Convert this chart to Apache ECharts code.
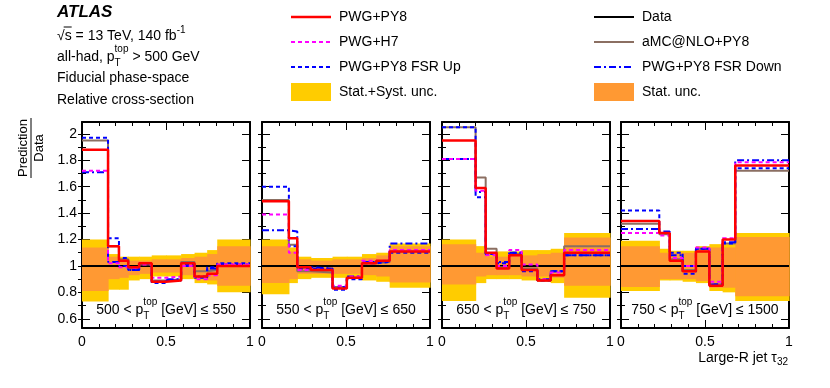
<!DOCTYPE html>
<html>
<head>
<meta charset="utf-8">
<script src="https://cdn.jsdelivr.net/npm/echarts@6/dist/echarts.min.js"></script>
<style>
  html, body { margin: 0; padding: 0; background: #fff; }
  #chart { width: 830px; height: 388px; }
</style>
</head>
<body>
<div id="chart"></div>
<script>
// bin edges (tau32) per pT slice
const edges1 = [0, 0.155, 0.22, 0.275, 0.34, 0.415, 0.5, 0.59, 0.67, 0.745, 0.805, 1.0]
const edges2 = [0, 0.16, 0.21, 0.29, 0.42, 0.505, 0.595, 0.68, 0.76, 1.0]
const edges3 = [0, 0.2, 0.26, 0.325, 0.4, 0.474, 0.568, 0.647, 0.727, 1.0]
const edges4 = [0, 0.228, 0.29, 0.367, 0.446, 0.526, 0.605, 0.68, 1.0]

// Prediction / Data ratios
const pwgPy8_1 = [1.88, 1.15, 1.04, 0.99, 1.02, 0.88, 0.89, 1.02, 0.92, 0.94, 1.00]
const pwgH7_1 = [1.72, 1.02, 0.99, 0.98, 1.01, 0.91, 0.92, 1.00, 0.90, 0.93, 1.01]
const fsrUp_1 = [1.97, 1.21, 1.06, 0.97, 1.02, 0.87, 0.89, 1.01, 0.91, 0.99, 1.02]
const amc_1 = [1.95, 1.15, 1.05, 0.98, 1.01, 0.89, 0.90, 1.03, 0.96, 0.97, 1.00]
const fsrDown_1 = [1.71, 1.03, 1.00, 0.97, 1.02, 0.88, 0.90, 1.00, 0.92, 0.98, 1.01]

const pwgPy8_2 = [1.49, 1.21, 0.99, 0.97, 0.83, 0.91, 1.02, 1.04, 1.11]
const pwgH7_2 = [1.39, 1.10, 0.97, 0.97, 0.85, 0.92, 1.04, 1.04, 1.12]
const fsrUp_2 = [1.60, 1.15, 0.98, 0.98, 0.82, 0.90, 1.02, 1.03, 1.10]
const amc_2 = [1.50, 1.16, 0.96, 0.95, 0.84, 0.91, 1.02, 1.03, 1.11]
const fsrDown_2 = [1.27, 1.26, 0.99, 0.98, 0.84, 0.92, 1.03, 1.04, 1.17]

const pwgPy8_3 = [1.95, 1.59, 1.10, 0.98, 1.08, 0.97, 0.89, 0.93, 1.10]
const pwgH7_3 = [1.81, 1.57, 1.08, 1.00, 1.12, 1.01, 0.90, 0.95, 1.12]
const fsrUp_3 = [2.05, 1.52, 1.09, 1.02, 1.10, 0.96, 0.89, 0.96, 1.08]
const amc_3 = [2.05, 1.67, 1.13, 0.99, 1.09, 0.98, 0.89, 0.93, 1.15]
const fsrDown_3 = [1.81, 1.56, 1.09, 1.03, 1.10, 0.97, 0.90, 0.96, 1.08]

const pwgPy8_4 = [1.34, 1.25, 1.04, 0.96, 1.11, 0.85, 1.20, 1.76]
const pwgH7_4 = [1.25, 1.23, 1.06, 1.00, 1.14, 0.88, 1.21, 1.785]
const fsrUp_4 = [1.42, 1.25, 1.10, 0.94, 1.13, 0.86, 1.17, 1.74]
const amc_4 = [1.32, 1.24, 1.05, 0.97, 1.13, 0.86, 1.17, 1.72]
const fsrDown_4 = [1.28, 1.26, 1.08, 1.00, 1.13, 0.86, 1.18, 1.80]

// uncertainty bands (low / high)
const sysLo_1 = [0.73, 0.82, 0.82, 0.89, 0.90, 0.92, 0.92, 0.90, 0.87, 0.86, 0.80]
const sysHi_1 = [1.20, 1.09, 1.07, 1.07, 1.07, 1.08, 1.08, 1.09, 1.10, 1.12, 1.20]
const statLo_1 = [0.81, 0.90, 0.91, 0.93, 0.94, 0.95, 0.95, 0.93, 0.91, 0.89, 0.85]
const statHi_1 = [1.14, 1.07, 1.05, 1.04, 1.04, 1.05, 1.05, 1.06, 1.07, 1.09, 1.15]

const sysLo_2 = [0.785, 0.87, 0.90, 0.91, 0.91, 0.90, 0.89, 0.88, 0.835]
const sysHi_2 = [1.20, 1.14, 1.07, 1.06, 1.07, 1.07, 1.09, 1.10, 1.17]
const statLo_2 = [0.87, 0.90, 0.94, 0.94, 0.94, 0.94, 0.93, 0.92, 0.875]
const statHi_2 = [1.15, 1.11, 1.05, 1.04, 1.05, 1.05, 1.06, 1.08, 1.15]

const sysLo_3 = [0.735, 0.87, 0.90, 0.90, 0.90, 0.89, 0.88, 0.87, 0.76]
const sysHi_3 = [1.20, 1.15, 1.10, 1.11, 1.11, 1.12, 1.12, 1.13, 1.25]
const statLo_3 = [0.86, 0.92, 0.93, 0.93, 0.93, 0.92, 0.92, 0.91, 0.85]
const statHi_3 = [1.165, 1.10, 1.07, 1.07, 1.08, 1.08, 1.09, 1.10, 1.215]

const sysLo_4 = [0.81, 0.89, 0.89, 0.88, 0.87, 0.81, 0.80, 0.735]
const sysHi_4 = [1.19, 1.13, 1.115, 1.115, 1.15, 1.165, 1.165, 1.25]
const statLo_4 = [0.84, 0.90, 0.90, 0.90, 0.885, 0.835, 0.835, 0.77]
const statHi_4 = [1.15, 1.10, 1.10, 1.10, 1.13, 1.14, 1.14, 1.22]

const ptLow = ['500', '550', '650', '750']
const ptHigh = ['550', '650', '750', '1500']

const yMajor = [0.6, 0.8, 1, 1.2, 1.4, 1.6, 1.8, 2]
const yMinor = [0.6, 0.7, 0.8, 0.9, 1, 1.1, 1.2, 1.3, 1.4, 1.5, 1.6, 1.7, 1.8, 1.9, 2]

const FONT = '"Liberation Sans", Arial, Helvetica, sans-serif'
const Y_MIN = 0.53
const Y_MAX = 2.09
const panelLeft = [82, 262, 442, 621]
const panelW = 168
const panelTop = 122
const panelH = 206

const colRed = '#FF0000'
const colMag = '#FF00FF'
const colBlue = '#0000FF'
const colBrown = '#8B6F62'
const colYellow = '#FFCC00'
const colOrange = '#FF9933'

const panels = [
  { edges: edges1, red: pwgPy8_1, h7: pwgH7_1, up: fsrUp_1, amc: amc_1, down: fsrDown_1, sysLo: sysLo_1, sysHi: sysHi_1, statLo: statLo_1, statHi: statHi_1 },
  { edges: edges2, red: pwgPy8_2, h7: pwgH7_2, up: fsrUp_2, amc: amc_2, down: fsrDown_2, sysLo: sysLo_2, sysHi: sysHi_2, statLo: statLo_2, statHi: statHi_2 },
  { edges: edges3, red: pwgPy8_3, h7: pwgH7_3, up: fsrUp_3, amc: amc_3, down: fsrDown_3, sysLo: sysLo_3, sysHi: sysHi_3, statLo: statLo_3, statHi: statHi_3 },
  { edges: edges4, red: pwgPy8_4, h7: pwgH7_4, up: fsrUp_4, amc: amc_4, down: fsrDown_4, sysLo: sysLo_4, sysHi: sysHi_4, statLo: statLo_4, statHi: statHi_4 }
]

// text measuring, for sub/superscripts
const mctx = document.createElement('canvas').getContext('2d')
function tw(text, size) {
  mctx.font = size + 'px ' + FONT
  return mctx.measureText(text).width
}
function txt(x, y, text, size, extra) {
  return {
    type: 'text', x: x, y: y, silent: true,
    style: Object.assign({ text: text, font: size + 'px ' + FONT, fill: '#000', textAlign: 'left', textVerticalAlign: 'middle' }, extra || {})
  }
}
// parts: {t} plain, {t, size, dy} shifted, {sup, sub} stacked
function richLine(x, y, parts, align) {
  const widths = parts.map(p => p.sup ? Math.max(tw(p.sup, 10), tw(p.sub, 10)) : tw(p.t, p.size || 14))
  const total = widths.reduce((a, b) => a + b, 0)
  let cx = align === 'center' ? x - total / 2 : align === 'right' ? x - total : x
  const els = []
  parts.forEach((p, k) => {
    if (p.sup) {
      els.push(txt(cx, y - 8, p.sup, 10))
      els.push(txt(cx, y + 6, p.sub, 10))
    } else {
      els.push(txt(cx, y + (p.dy || 0), p.t, p.size || 14))
    }
    cx += widths[k]
  })
  return els
}

function stepData(edges, vals) {
  const pts = vals.map((v, k) => [edges[k], v])
  pts.push([edges[edges.length - 1], vals[vals.length - 1]])
  return pts
}
function bandData(edges, lo, hi) {
  return lo.map((v, k) => [edges[k], edges[k + 1], v, hi[k]])
}
function bandItem(color) {
  return function (params, api) {
    const p0 = api.coord([api.value(0), api.value(3)])
    const p1 = api.coord([api.value(1), api.value(2)])
    return {
      type: 'rect',
      shape: { x: p0[0], y: p0[1], width: p1[0] - p0[0] + 0.6, height: p1[1] - p0[1] },
      style: { fill: color }
    }
  }
}

const grids = [], xAxes = [], yAxes = [], series = []
const axisLine = { show: true, onZero: false, lineStyle: { color: '#000', width: 2 } }

panels.forEach((p, i) => {
  grids.push({ left: panelLeft[i], top: panelTop, width: panelW, height: panelH })
  ;['bottom', 'top'].forEach(pos => {
    xAxes.push({
      type: 'value', gridIndex: i, position: pos, min: 0, max: 1, interval: 0.5,
      axisLine: axisLine,
      axisTick: { show: true, inside: true, length: 8, lineStyle: { color: '#000', width: 1 } },
      minorTick: { show: true, splitNumber: 5, length: 4, lineStyle: { color: '#000', width: 1 } },
      axisLabel: {
        show: pos === 'bottom', color: '#000', fontSize: 14, fontFamily: FONT, margin: 7,
        formatter: v => (v === 0 ? '0' : v === 1 ? '1' : '0.5')
      },
      splitLine: { show: false }
    })
  })
  ;['left', 'right'].forEach(pos => {
    yAxes.push({
      type: 'value', gridIndex: i, position: pos, min: Y_MIN, max: Y_MAX,
      axisLine: axisLine,
      axisTick: { show: true, inside: true, length: 8, customValues: yMajor, lineStyle: { color: '#000', width: 1 } },
      axisLabel: {
        show: pos === 'left' && i === 0, customValues: yMajor, color: '#000', fontSize: 14, fontFamily: FONT, margin: 5,
        formatter: v => String(Math.round(v * 10) / 10)
      },
      splitLine: { show: false }
    })
    yAxes.push({
      type: 'value', gridIndex: i, position: pos, min: Y_MIN, max: Y_MAX,
      axisLine: { show: false },
      axisTick: { show: true, inside: true, length: 4, customValues: yMinor, lineStyle: { color: '#000', width: 1 } },
      axisLabel: { show: false },
      splitLine: { show: false }
    })
  })
  const xi = 2 * i, yi = 4 * i
  series.push({
    type: 'custom', xAxisIndex: xi, yAxisIndex: yi, silent: true, z: 1,
    renderItem: bandItem(colYellow), encode: { x: [0, 1], y: [2, 3] },
    data: bandData(p.edges, p.sysLo, p.sysHi)
  })
  series.push({
    type: 'custom', xAxisIndex: xi, yAxisIndex: yi, silent: true, z: 2,
    renderItem: bandItem(colOrange), encode: { x: [0, 1], y: [2, 3] },
    data: bandData(p.edges, p.statLo, p.statHi)
  })
  series.push({
    type: 'line', xAxisIndex: xi, yAxisIndex: yi, symbol: 'none', z: 3,
    data: [[0, 1], [1, 1]], lineStyle: { color: '#000', width: 2 }
  })
  const mc = [
    { d: p.amc, c: colBrown, w: 2, t: 'solid' },
    { d: p.down, c: colBlue, w: 2, t: [7, 3, 2, 3] },
    { d: p.up, c: colBlue, w: 2, t: [4, 3] },
    { d: p.h7, c: colMag, w: 2, t: [4, 3] },
    { d: p.red, c: colRed, w: 2.5, t: 'solid' }
  ]
  mc.forEach((m, k) => {
    series.push({
      type: 'line', step: 'end', xAxisIndex: xi, yAxisIndex: yi, symbol: 'none', z: 4 + k,
      data: stepData(p.edges, m.d), lineStyle: { color: m.c, width: m.w, type: m.t }
    })
  })
})

// texts, legend, annotations
const graphic = []
const cx = panelLeft.map(l => l + panelW / 2)
panels.forEach((p, i) => {
  graphic.push(...richLine(cx[i], 310, [{ t: ptLow[i] + ' < p' }, { sup: 'top', sub: 'T' }, { t: ' [GeV] \u2264 ' + ptHigh[i] }], 'center'))
})

// header block
graphic.push(txt(57, 12, 'ATLAS', 17, { font: 'italic bold 17px ' + FONT }))
graphic.push(...richLine(57, 36, [{ t: '\u221As = 13 TeV, 140 fb' }, { t: '-1', size: 10, dy: -6 }], 'left'))
// bar over s of the square root
graphic.push({ type: 'line', silent: true, shape: { x1: 57 + tw('\u221A', 14) - 1, y1: 27, x2: 57 + tw('\u221As', 14), y2: 27 }, style: { stroke: '#000', lineWidth: 1 } })
graphic.push(...richLine(57, 57, [{ t: 'all-had, p' }, { sup: 'top', sub: 'T' }, { t: ' > 500 GeV' }], 'left'))
graphic.push(txt(57, 78, 'Fiducial phase-space', 14))
graphic.push(txt(57, 100, 'Relative cross-section', 14))

// legend
const legRows = [17, 42, 67, 92]
const legCols = [{ lx: 291, tx: 339 }, { lx: 594, tx: 642 }]
const legItems = [
  [{ n: 'PWG+PY8', c: colRed, w: 2.5 }, { n: 'PWG+H7', c: colMag, w: 2, dash: [4, 3] }, { n: 'PWG+PY8 FSR Up', c: colBlue, w: 2, dash: [4, 3] }, { n: 'Stat.+Syst. unc.', box: colYellow }],
  [{ n: 'Data', c: '#000', w: 2 }, { n: 'aMC@NLO+PY8', c: colBrown, w: 2 }, { n: 'PWG+PY8 FSR Down', c: colBlue, w: 2, dash: [7, 3, 2, 3] }, { n: 'Stat. unc.', box: colOrange }]
]
legItems.forEach((col, ci) => {
  col.forEach((it, ri) => {
    const y = legRows[ri], lx = legCols[ci].lx
    if (it.box) {
      graphic.push({ type: 'rect', silent: true, shape: { x: lx, y: y - 9, width: 40, height: 18 }, style: { fill: it.box } })
    } else {
      graphic.push({ type: 'line', silent: true, shape: { x1: lx, y1: y, x2: lx + 40, y2: y }, style: { stroke: it.c, lineWidth: it.w, lineDash: it.dash || null } })
    }
    graphic.push(txt(legCols[ci].tx, y, it.n, 14))
  })
})

// y title (fraction), rotated
graphic.push({
  type: 'group', x: 31, y: 148, rotation: Math.PI / 2, silent: true,
  children: [
    { type: 'text', x: 0, y: -8, style: { text: 'Prediction', font: '13px ' + FONT, fill: '#000', textAlign: 'center', textVerticalAlign: 'middle' } },
    { type: 'line', shape: { x1: -30, y1: 0, x2: 30, y2: 0 }, style: { stroke: '#000', lineWidth: 1 } },
    { type: 'text', x: 0, y: 8, style: { text: 'Data', font: '13px ' + FONT, fill: '#000', textAlign: 'center', textVerticalAlign: 'middle' } }
  ]
})

// x title
graphic.push(...richLine(788, 358, [{ t: 'Large-R jet \u03C4' }, { t: '32', size: 10, dy: 4 }], 'right'))

const chart = echarts.init(document.getElementById('chart'), null, { renderer: 'canvas' })
chart.setOption({
  animation: false,
  backgroundColor: '#fff',
  grid: grids,
  xAxis: xAxes,
  yAxis: yAxes,
  series: series,
  graphic: graphic
})
</script>
</body>
</html>
